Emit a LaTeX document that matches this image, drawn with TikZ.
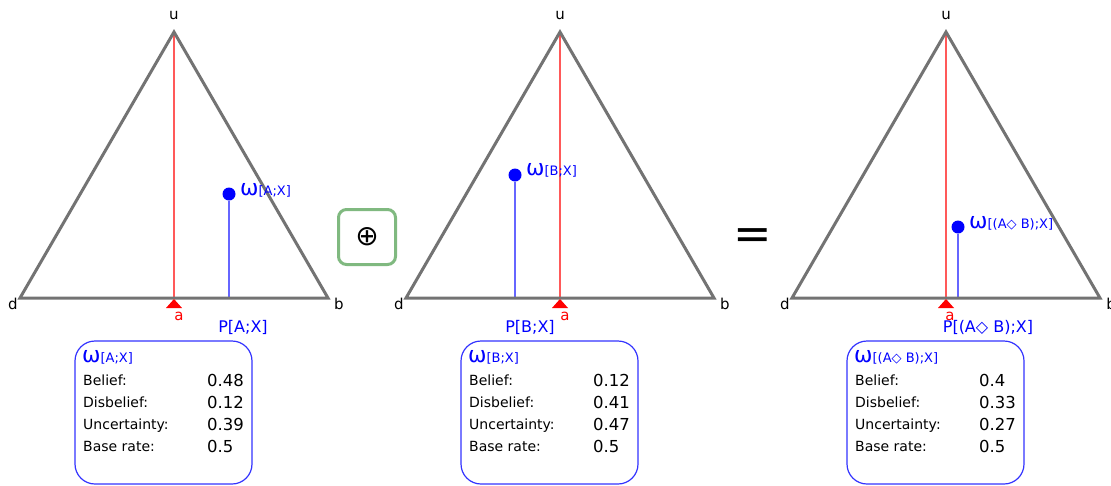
\documentclass[tikz,border=0pt]{standalone}
\usepackage{fontspec}
\setmainfont{DejaVu Sans}
\begin{document}
\begin{tikzpicture}[x=1pt,y=-1pt,
  tri/.style={draw=black!55,line width=3pt,line join=miter},
  redline/.style={draw=red!65,line width=1.6pt},
  blueline/.style={draw=blue!60,line width=1.6pt},
  dot/.style={circle,fill=blue,inner sep=0pt,minimum size=13pt},
  marker/.style={fill=red,draw=none},
  vlab/.style={font=\fontsize{15}{15}\selectfont,inner sep=0pt},
  alab/.style={font=\fontsize{15}{15}\selectfont,text=red,inner sep=0pt},
  plab/.style={font=\fontsize{16}{16}\selectfont,text=blue,inner sep=0pt},
  wlab/.style={text=blue,inner sep=0pt,anchor=base west},
  infobox/.style={draw=blue!80,line width=1.2pt,rounded corners=20pt},
  rowlab/.style={font=\fontsize{14}{14}\selectfont,inner sep=0pt,anchor=base west},
  rowval/.style={font=\fontsize{16.5}{16.5}\selectfont,inner sep=0pt,anchor=base west},
  opbox/.style={draw=green!45!black!50,line width=3pt,rounded corners=8pt,minimum width=57pt,minimum height=55pt,inner sep=0pt,font=\fontsize{28}{28}\selectfont}
]
\useasboundingbox (0,0) rectangle (1111,485);
\newcommand{\om}[1]{{\fontsize{22}{22}\selectfont ω}{\fontsize{13}{13}\selectfont #1}}

% ---------- Triangle 1 ----------
\coordinate (d1) at (20,298); \coordinate (b1) at (328,298); \coordinate (u1) at (174,32);
\coordinate (r1) at (174,298); \coordinate (p1) at (229,298);
\draw[redline] (u1) -- (r1);
\node[dot] (w1) at (229,194) {};
\draw[blueline] (w1) -- (p1);
\draw[tri] (d1) -- (u1) -- (b1) -- cycle;
\fill[marker] (174,299) -- (182,308) -- (166,308) -- cycle;
\node[vlab] (lu1) at (174,15) {u};
\node[vlab] (ld1) at (13,304) {d};
\node[vlab] (lb1) at (339,304) {b};
\node[alab] (la1) at (179,316) {a};
\node[wlab] (lw1) at (240,195) {\om{[A;X]}};
\node[plab] (lp1) at (243,327) {P[A;X]};

% ---------- Triangle 2 ----------
\coordinate (d2) at (406,298); \coordinate (b2) at (714,298); \coordinate (u2) at (560,32);
\coordinate (r2) at (560,298); \coordinate (p2) at (515,298);
\draw[redline] (u2) -- (r2);
\node[dot] (w2) at (515,175) {};
\draw[blueline] (w2) -- (p2);
\draw[tri] (d2) -- (u2) -- (b2) -- cycle;
\fill[marker] (560,299) -- (568,308) -- (552,308) -- cycle;
\node[vlab] (lu2) at (560,15) {u};
\node[vlab] (ld2) at (399,304) {d};
\node[vlab] (lb2) at (725,304) {b};
\node[alab] (la2) at (565,316) {a};
\node[wlab] (lw2) at (526,175) {\om{[B;X]}};
\node[plab] (lp2) at (530,327) {P[B;X]};

% ---------- Triangle 3 ----------
\coordinate (d3) at (792,298); \coordinate (b3) at (1100,298); \coordinate (u3) at (946,32);
\coordinate (r3) at (946,298); \coordinate (p3) at (958,298);
\draw[redline] (u3) -- (r3);
\node[dot] (w3) at (958,227) {};
\draw[blueline] (w3) -- (p3);
\draw[tri] (d3) -- (u3) -- (b3) -- cycle;
\fill[marker] (946,299) -- (954,308) -- (938,308) -- cycle;
\node[vlab] (lu3) at (946,15) {u};
\node[vlab] (ld3) at (785,304) {d};
\node[vlab] (lb3) at (1111,304) {b};
\node[alab] (la3) at (950,316) {a};
\node[wlab] (lw3) at (969,228) {\om{[(A◇ B);X]}};
\node[plab] (lp3) at (988,327) {P[(A◇ B);X]};

% ---------- operators ----------
\node[opbox] (op) at (367,237) {⊕};
\node[inner sep=0pt,font=\fontsize{46}{46}\selectfont] (eq) at (753,239) {=};

% ---------- info boxes ----------
\draw[infobox] (75,341) rectangle (252,484);
\node[wlab] (h1) at (82,362) {\om{[A;X]}};
\node[rowlab] (b1l) at (83,385) {Belief:};
\node[rowlab] (d1l) at (83,407) {Disbelief:};
\node[rowlab] (u1l) at (83,429) {Uncertainty:};
\node[rowlab] (a1l) at (83,451) {Base rate:};
\node[rowval] (b1v) at (207,386) {0.48};
\node[rowval] (d1v) at (207,408) {0.12};
\node[rowval] (u1v) at (207,430) {0.39};
\node[rowval] (a1v) at (207,452) {0.5};

\draw[infobox] (461,341) rectangle (638,484);
\node[wlab] (h2) at (468,362) {\om{[B;X]}};
\node[rowlab] (b2l) at (469,385) {Belief:};
\node[rowlab] (d2l) at (469,407) {Disbelief:};
\node[rowlab] (u2l) at (469,429) {Uncertainty:};
\node[rowlab] (a2l) at (469,451) {Base rate:};
\node[rowval] (b2v) at (593,386) {0.12};
\node[rowval] (d2v) at (593,408) {0.41};
\node[rowval] (u2v) at (593,430) {0.47};
\node[rowval] (a2v) at (593,452) {0.5};

\draw[infobox] (847,341) rectangle (1024,484);
\node[wlab] (h3) at (854,362) {\om{[(A◇ B);X]}};
\node[rowlab] (b3l) at (855,385) {Belief:};
\node[rowlab] (d3l) at (855,407) {Disbelief:};
\node[rowlab] (u3l) at (855,429) {Uncertainty:};
\node[rowlab] (a3l) at (855,451) {Base rate:};
\node[rowval] (b3v) at (979,386) {0.4};
\node[rowval] (d3v) at (979,408) {0.33};
\node[rowval] (u3v) at (979,430) {0.27};
\node[rowval] (a3v) at (979,452) {0.5};
\end{tikzpicture}
\end{document}
